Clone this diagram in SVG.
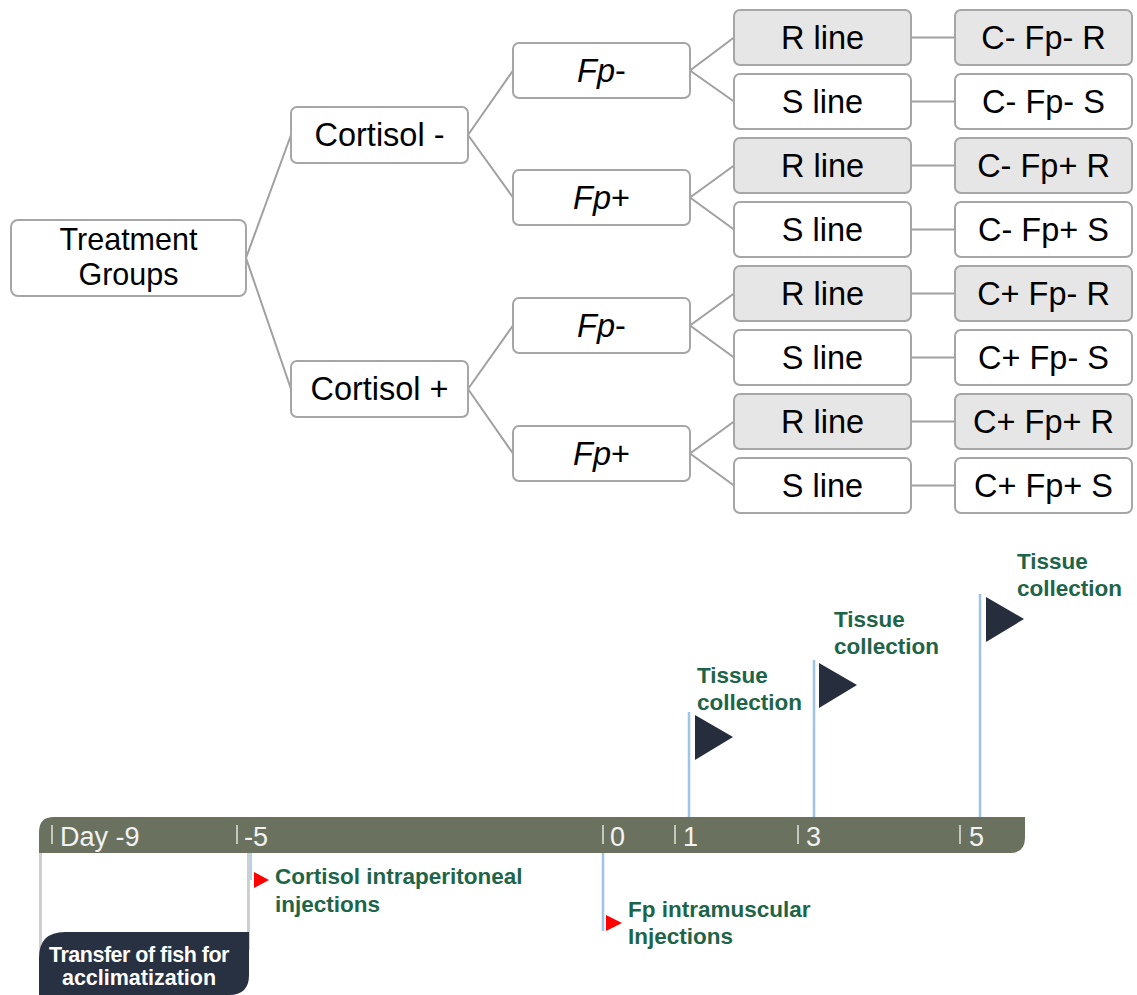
<svg xmlns="http://www.w3.org/2000/svg" width="1137" height="995" viewBox="0 0 1137 995">
<style>
.box{fill:#ffffff;stroke:#a6a6a6;stroke-width:2}
.gbox{fill:#e6e6e6;stroke:#a6a6a6;stroke-width:2}
.t{font-family:"Liberation Sans",Arial,sans-serif;font-size:32.5px;fill:#000;text-anchor:middle}
.conn line{stroke:#a0a0a0;stroke-width:2}
.green{font-family:"Liberation Sans",Arial,sans-serif;font-size:22.5px;font-weight:bold;fill:#1d6448}
.day{font-family:"Liberation Sans",Arial,sans-serif;font-size:27px;fill:#f2f2f2}
.tick{stroke:#c4c8bc;stroke-width:2}
.pole{stroke:#9dc3e6;stroke-width:2.5}
.flag{fill:#262d3d}
.red{fill:#ff0000}
</style>
<g id="connectors" class="conn">
<line x1="246" y1="258" x2="291" y2="135"/>
<line x1="246" y1="258" x2="291" y2="389"/>
<line x1="468" y1="135" x2="513" y2="70.5"/>
<line x1="468" y1="135" x2="513" y2="197.5"/>
<line x1="468" y1="389" x2="513" y2="325.5"/>
<line x1="468" y1="389" x2="513" y2="453.5"/>
<line x1="690" y1="70.5" x2="734" y2="37.5"/>
<line x1="690" y1="70.5" x2="734" y2="101.5"/>
<line x1="690" y1="197.5" x2="734" y2="165.5"/>
<line x1="690" y1="197.5" x2="734" y2="229.5"/>
<line x1="690" y1="325.5" x2="734" y2="293.5"/>
<line x1="690" y1="325.5" x2="734" y2="357.5"/>
<line x1="690" y1="453.5" x2="734" y2="421.5"/>
<line x1="690" y1="453.5" x2="734" y2="485.5"/>
<line x1="911" y1="37.5" x2="955" y2="37.5"/>
<line x1="911" y1="101.5" x2="955" y2="101.5"/>
<line x1="911" y1="165.5" x2="955" y2="165.5"/>
<line x1="911" y1="229.5" x2="955" y2="229.5"/>
<line x1="911" y1="293.5" x2="955" y2="293.5"/>
<line x1="911" y1="357.5" x2="955" y2="357.5"/>
<line x1="911" y1="421.5" x2="955" y2="421.5"/>
<line x1="911" y1="485.5" x2="955" y2="485.5"/>
</g>
<g id="treatment"><rect class="box" x="11" y="220" width="235" height="76" rx="7"/><text class="t" x="128.5" y="250" style="font-size:30.5px"><tspan x="128.5" y="250">Treatment</tspan><tspan x="128.5" y="284.5">Groups</tspan></text></g>
<g id="cortisol-minus"><rect class="box" x="291" y="107" width="177" height="56" rx="6"/><text class="t" x="379.5" y="146">Cortisol -</text></g>
<g id="cortisol-plus"><rect class="box" x="291" y="361" width="177" height="56" rx="6"/><text class="t" x="379.5" y="400">Cortisol +</text></g>
<g id="fp-minus-1"><rect class="box" x="513" y="43" width="177" height="55" rx="6"/><text class="t" x="601.5" y="82"><tspan font-style="italic">Fp</tspan>-</text></g>
<g id="fp-plus-1"><rect class="box" x="513" y="170" width="177" height="55" rx="6"/><text class="t" x="601.5" y="209"><tspan font-style="italic">Fp</tspan>+</text></g>
<g id="fp-minus-2"><rect class="box" x="513" y="298" width="177" height="55" rx="6"/><text class="t" x="601.5" y="337"><tspan font-style="italic">Fp</tspan>-</text></g>
<g id="fp-plus-2"><rect class="box" x="513" y="426" width="177" height="55" rx="6"/><text class="t" x="601.5" y="465"><tspan font-style="italic">Fp</tspan>+</text></g>
<g id="line-1"><rect class="gbox" x="734" y="10" width="177" height="55" rx="6"/><text class="t" x="822.5" y="49">R line</text></g>
<g id="line-2"><rect class="box" x="734" y="74" width="177" height="55" rx="6"/><text class="t" x="822.5" y="113">S line</text></g>
<g id="line-3"><rect class="gbox" x="734" y="138" width="177" height="55" rx="6"/><text class="t" x="822.5" y="177">R line</text></g>
<g id="line-4"><rect class="box" x="734" y="202" width="177" height="55" rx="6"/><text class="t" x="822.5" y="241">S line</text></g>
<g id="line-5"><rect class="gbox" x="734" y="266" width="177" height="55" rx="6"/><text class="t" x="822.5" y="305">R line</text></g>
<g id="line-6"><rect class="box" x="734" y="330" width="177" height="55" rx="6"/><text class="t" x="822.5" y="369">S line</text></g>
<g id="line-7"><rect class="gbox" x="734" y="394" width="177" height="55" rx="6"/><text class="t" x="822.5" y="433">R line</text></g>
<g id="line-8"><rect class="box" x="734" y="458" width="177" height="55" rx="6"/><text class="t" x="822.5" y="497">S line</text></g>
<g id="group-1"><rect class="gbox" x="955" y="10" width="177" height="55" rx="6"/><text class="t" x="1043.5" y="49">C- Fp- R</text></g>
<g id="group-2"><rect class="box" x="955" y="74" width="177" height="55" rx="6"/><text class="t" x="1043.5" y="113">C- Fp- S</text></g>
<g id="group-3"><rect class="gbox" x="955" y="138" width="177" height="55" rx="6"/><text class="t" x="1043.5" y="177">C- Fp+ R</text></g>
<g id="group-4"><rect class="box" x="955" y="202" width="177" height="55" rx="6"/><text class="t" x="1043.5" y="241">C- Fp+ S</text></g>
<g id="group-5"><rect class="gbox" x="955" y="266" width="177" height="55" rx="6"/><text class="t" x="1043.5" y="305">C+ Fp- R</text></g>
<g id="group-6"><rect class="box" x="955" y="330" width="177" height="55" rx="6"/><text class="t" x="1043.5" y="369">C+ Fp- S</text></g>
<g id="group-7"><rect class="gbox" x="955" y="394" width="177" height="55" rx="6"/><text class="t" x="1043.5" y="433">C+ Fp+ R</text></g>
<g id="group-8"><rect class="box" x="955" y="458" width="177" height="55" rx="6"/><text class="t" x="1043.5" y="497">C+ Fp+ S</text></g>

<g id="timeline">
<line x1="40.5" y1="853" x2="40.5" y2="965" stroke="#cfcfcf" stroke-width="3"/>
<line x1="248.5" y1="853" x2="248.5" y2="950" stroke="#cfcfcf" stroke-width="3"/>
<line x1="251" y1="853" x2="251" y2="880" stroke="#9dc3e6" stroke-width="1.5"/>
<line class="pole" x1="603" y1="853" x2="603" y2="931"/>
<line class="pole" x1="689" y1="712" x2="689" y2="817"/>
<line class="pole" x1="814" y1="660" x2="814" y2="817"/>
<line class="pole" x1="980" y1="594" x2="980" y2="817"/>
<path d="M39 853 V832 Q39 817 54 817 H1025 V838 Q1025 853 1010 853 Z" fill="#6a725f"/>
<line class="tick" x1="52" y1="825" x2="52" y2="844"/>
<line class="tick" x1="237" y1="825" x2="237" y2="844"/>
<line class="tick" x1="603" y1="825" x2="603" y2="844"/>
<line class="tick" x1="675" y1="825" x2="675" y2="844"/>
<line class="tick" x1="798" y1="825" x2="798" y2="844"/>
<line class="tick" x1="960" y1="825" x2="960" y2="844"/>
<text class="day" x="60" y="846">Day -9</text>
<text class="day" x="244" y="846">-5</text>
<text class="day" x="610" y="846">0</text>
<text class="day" x="683" y="846">1</text>
<text class="day" x="806" y="846">3</text>
<text class="day" x="969" y="846">5</text>
<polygon class="flag" points="695,715 733,737 695,760"/>
<polygon class="flag" points="819,663 857,685 819,708"/>
<polygon class="flag" points="986,597 1024,619 986,642"/>
<text class="green" x="697" y="683">Tissue</text>
<text class="green" x="697" y="710">collection</text>
<text class="green" x="834" y="627">Tissue</text>
<text class="green" x="834" y="654">collection</text>
<text class="green" x="1017" y="569">Tissue</text>
<text class="green" x="1017" y="596">collection</text>
<polygon class="red" points="254,872 269,880 254,888"/>
<text class="green" x="275" y="884">Cortisol intraperitoneal</text>
<text class="green" x="275" y="912">injections</text>
<polygon class="red" points="606,915 622,923 606,931"/>
<text class="green" x="628" y="917">Fp intramuscular</text>
<text class="green" x="628" y="944">Injections</text>
<path d="M39 995 V958 Q39 932 65 932 H249 V975 Q249 995 229 995 Z" fill="#283142"/>
<text x="139" y="962" font-family="Liberation Sans,Arial,sans-serif" font-size="21.5" font-weight="bold" fill="#ffffff" text-anchor="middle" letter-spacing="-0.5">Transfer of fish for</text>
<text x="139" y="985" font-family="Liberation Sans,Arial,sans-serif" font-size="21.5" font-weight="bold" fill="#ffffff" text-anchor="middle">acclimatization</text>
</g>
</svg>
